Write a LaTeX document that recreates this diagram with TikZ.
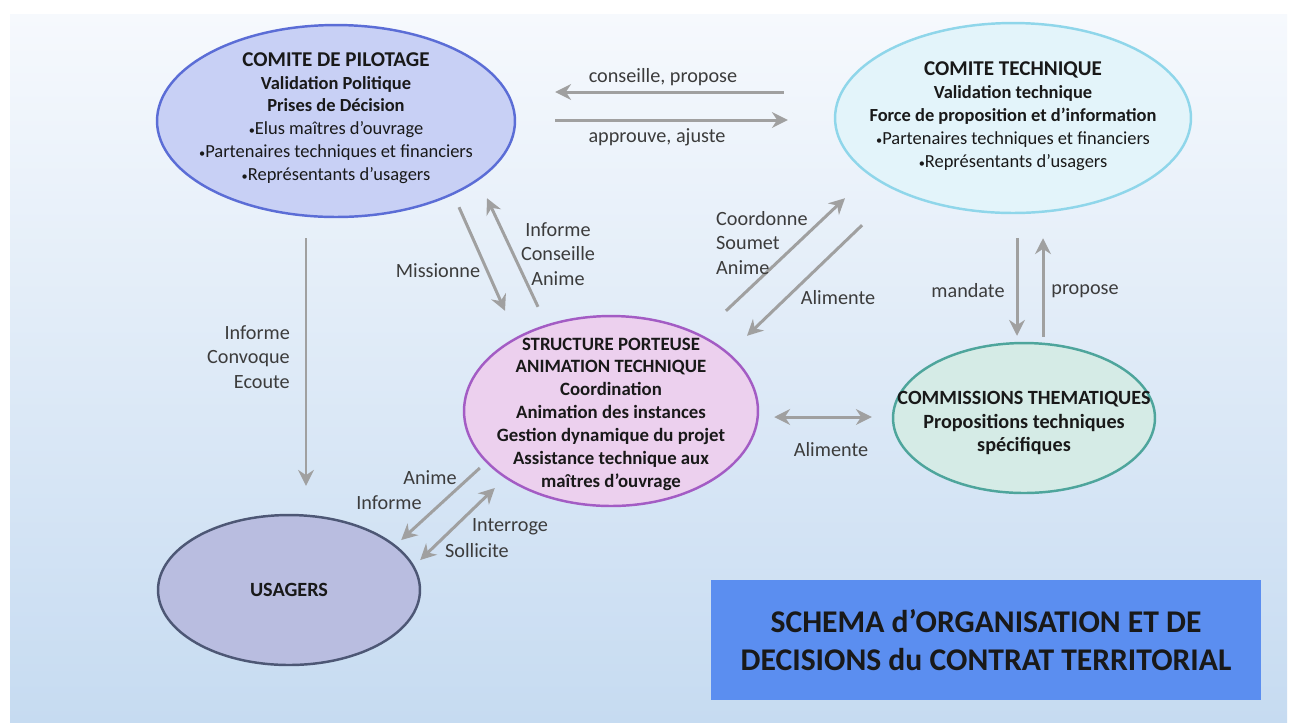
\documentclass[tikz,border=0pt]{standalone}
\usepackage{fontspec}
\setmainfont{Carlito}
\usetikzlibrary{arrows.meta,calc,shapes.geometric}

\definecolor{fondhaut}{HTML}{F6F9FD}
\definecolor{fondmilieu}{HTML}{B9D3EE}
\definecolor{fondbas}{HTML}{C6DBF1}
\definecolor{flechegris}{HTML}{A0A0A0}
\definecolor{textegris}{HTML}{3C3C3C}
\definecolor{pilotfond}{HTML}{C8D0F5}
\definecolor{pilotbord}{HTML}{5B6DD6}
\definecolor{techfond}{HTML}{E3F4FA}
\definecolor{techbord}{HTML}{8FD6EA}
\definecolor{structfond}{HTML}{ECD0EE}
\definecolor{structbord}{HTML}{A35CC4}
\definecolor{commfond}{HTML}{D5EBE6}
\definecolor{commbord}{HTML}{4EA59C}
\definecolor{usagfond}{HTML}{B9BDE0}
\definecolor{usagbord}{HTML}{4D5775}
\definecolor{titrefond}{HTML}{5B8EF0}

\newcommand{\puce}{{\scriptsize\textbullet}}
\newcommand{\titreinst}[1]{{\fontsize{12}{14}\selectfont\bfseries #1}}

\tikzset{
  instance/.style={ellipse, line width=1.4pt, inner sep=0pt},
  texte/.style={align=center, text=black!90, font=\fontsize{10.5}{13}\selectfont},
  fleche/.style={-{Stealth[length=9pt,width=9pt]}, draw=flechegris, line width=1.7pt},
  fleches/.style={{Stealth[length=9pt,width=9pt]}-{Stealth[length=9pt,width=9pt]}, draw=flechegris, line width=1.7pt},
  etiquette/.style={text=textegris, font=\fontsize{11.5}{14}\selectfont, align=center}
}

\begin{document}
\begin{tikzpicture}[x=0.02cm,y=-0.02cm]
      \useasboundingbox (0,0) rectangle (1290,725);
      % fond
      \fill[white] (0,0) rectangle (1290,725);
      \shade[top color=fondhaut,middle color=fondmilieu,bottom color=fondbas] (10,14) rectangle (1287,722);

      % instances
      \node[instance, fill=pilotfond, draw=pilotbord, minimum width=7.16cm, minimum height=3.84cm] (pilotage) at (336,121) {};
      \node[instance, fill=techfond, draw=techbord, minimum width=7.12cm, minimum height=3.8cm] (technique) at (1013,118) {};
      \node[instance, fill=structfond, draw=structbord, minimum width=5.88cm, minimum height=3.8cm] (structure) at (611,411) {};
      \node[instance, fill=commfond, draw=commbord, minimum width=5.24cm, minimum height=3.0cm] (commissions) at (1024,418) {};
      \node[instance, fill=usagfond, draw=usagbord, minimum width=5.24cm, minimum height=3.0cm] (usagers) at (289,590) {};

      \node[texte] (pilotage-txt) at ($(pilotage)+(0,-3)$) {\titreinst{COMITE DE PILOTAGE}\\ \textbf{Validation Politique}\\ \textbf{Prises de Décision}\\ \puce Elus maîtres d’ouvrage\\ \puce Partenaires techniques et financiers\\ \puce Représentants d’usagers};
      \node[texte] (technique-txt) at ($(technique)+(0,-2)$) {\titreinst{COMITE TECHNIQUE}\\ \textbf{Validation technique}\\ \textbf{Force de proposition et d’information}\\ \puce Partenaires techniques et financiers\\ \puce Représentants d’usagers};
      \node[texte, font=\fontsize{10.7}{13}\selectfont\bfseries] (structure-txt) at ($(structure)+(0,3)$) {STRUCTURE PORTEUSE\\ ANIMATION TECHNIQUE\\ Coordination\\ Animation des instances\\ Gestion dynamique du projet\\ Assistance technique aux\\ maîtres d’ouvrage};
      \node[texte, font=\fontsize{11.5}{13.5}\selectfont\bfseries] (commissions-txt) at ($(commissions)+(0,5)$) {COMMISSIONS THEMATIQUES\\ Propositions techniques\\ spécifiques};
      \node[texte, font=\fontsize{11.5}{13}\selectfont\bfseries] (usagers-txt) at (usagers) {USAGERS};

      % titre
      \node[fill=titrefond, minimum width=11cm, minimum height=2.4cm, align=center, text=black!90,
            font=\fontsize{18}{22}\selectfont\bfseries] (titre) at (986,640) {SCHEMA d’ORGANISATION ET DE\\ DECISIONS du CONTRAT TERRITORIAL};

      % fleches
      \draw[fleche] ($(technique.west)+(-50,-26)$) -- ($(pilotage.east)+(39,-29)$);
      \draw[fleche] ($(pilotage.east)+(39,-1)$) -- ($(technique.west)+(-46,2)$);
      \draw[fleche] ($(pilotage.south)+(123,-11)$) -- ($(structure.north)+(-106,-4)$);
      \draw[fleche] ($(structure.north)+(-73,-8)$) -- ($(pilotage.south)+(151,-20)$);
      \draw[fleche] ($(pilotage.south)+(-30,20)$) -- ($(usagers.north)+(17,-28)$);
      \draw[fleche] ($(structure.north)+(115,-4)$) -- ($(technique.south)+(-168,-16)$);
      \draw[fleche] ($(technique.south)+(-151,11)$) -- ($(structure.north)+(136,21)$);
      \draw[fleche] ($(technique.south)+(4,24)$) -- ($(commissions.north)+(-7,-6)$);
      \draw[fleche] ($(commissions.north)+(19,-5)$) -- ($(technique.south)+(30,24)$);
      \draw[fleches] ($(structure.east)+(15,6)$) -- ($(commissions.west)+(-20,-1)$);
      \draw[fleche] ($(structure.west)+(17,57)$) -- ($(usagers.east)+(-20,-50)$);
      \draw[fleches] ($(usagers.east)+(-1,-30)$) -- ($(structure.west)+(32,77)$);

      % etiquettes
      \node[etiquette] (l-conseille) at (663,77) {conseille, propose};
      \node[etiquette] (l-approuve) at (657,137) {approuve, ajuste};
      \node[etiquette] (l-missionne) at (438,271) {Missionne};
      \node[etiquette] (l-informe) at (558,254) {Informe\\ Conseille\\ Anime};
      \node[etiquette, align=right, anchor=east] (l-convoque) at (296,357) {Informe\\ Convoque\\ Ecoute};
      \node[etiquette, align=left, anchor=west] (l-coordonne) at (710,243) {Coordonne\\ Soumet\\ Anime};
      \node[etiquette] (l-alimente) at (838,298) {Alimente};
      \node[etiquette] (l-mandate) at (968,291) {mandate};
      \node[etiquette] (l-propose) at (1085,291) {propose};
      \node[etiquette] (l-alimente2) at (831,450) {Alimente};
      \node[etiquette] (l-anime) at (430,478) {Anime};
      \node[etiquette] (l-informe2) at (389,503) {Informe};
      \node[etiquette] (l-interroge) at (510,527) {Interroge};
      \node[etiquette] (l-sollicite) at (477,551) {Sollicite};
    \end{tikzpicture}
\end{document}
